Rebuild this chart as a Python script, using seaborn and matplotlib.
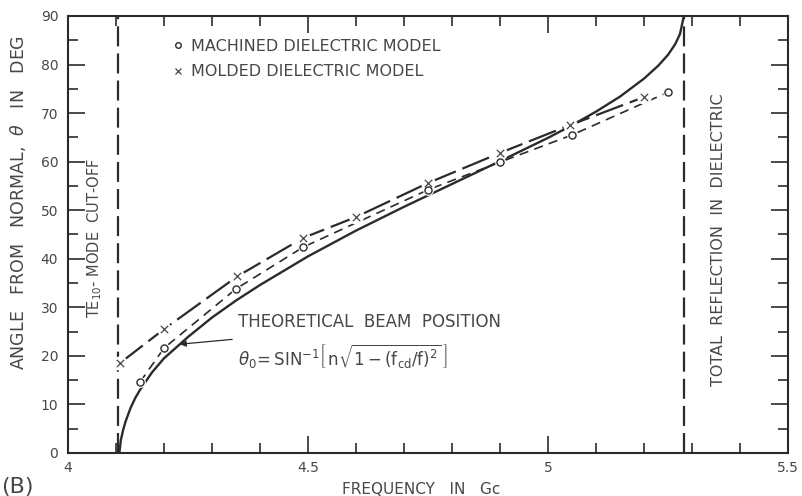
import numpy as np
import pandas as pd
import matplotlib
matplotlib.use("Agg")
import matplotlib.pyplot as plt
from matplotlib.ticker import MultipleLocator, FixedLocator
import seaborn as sns

# Theoretical beam position (solid curve), frequency in Gc vs angle in degrees
theory_freq = [4.107, 4.110, 4.115, 4.12, 4.13, 4.14, 4.15, 4.175, 4.2, 4.233,
               4.25, 4.3, 4.35, 4.4, 4.5, 4.6, 4.7, 4.8, 4.9, 5.0, 5.05, 5.1,
               5.15, 5.2, 5.23, 5.25, 5.265, 5.275, 5.283]
theory_angle = [0, 2.6, 4.8, 6.5, 9.2, 11.3, 13.0, 16.6, 19.5, 22.4,
                23.9, 27.9, 31.4, 34.6, 40.5, 45.8, 50.7, 55.4, 60.1, 64.9, 67.5, 70.3,
                73.4, 77.1, 79.8, 82.0, 84.2, 86.3, 90.0]

# Measured beam positions
machined_freq = [4.15, 4.2, 4.35, 4.49, 4.75, 4.9, 5.05, 5.25]
machined_angle = [14.6, 21.6, 33.8, 42.4, 54.2, 59.9, 65.5, 74.3]

molded_freq = [4.108, 4.2, 4.353, 4.49, 4.6, 4.75, 4.9, 5.045, 5.2]
molded_angle = [18.5, 25.5, 36.4, 44.3, 48.6, 55.6, 61.8, 67.5, 73.3]

# Limits of the operating band
cutoff_freq = 4.105
total_reflection_freq = 5.283

x_major = [4, 4.5, 5, 5.5]
x_major_labels = ["4", "4.5", "5", "5.5"]

sns.set_style("ticks")
plt.rcParams["font.family"] = ["DejaVu Sans"]
plt.rcParams["mathtext.fontset"] = "dejavusans"

ink = "#2b2b2b"
txt = "#474747"

fig = plt.figure(figsize=(8.02, 4.96), dpi=100)
ax = fig.add_axes([68 / 802, 1 - 453 / 496, 720 / 802, 437 / 496])

theory = pd.DataFrame({"f": theory_freq, "theta": theory_angle})
machined = pd.DataFrame({"f": machined_freq, "theta": machined_angle})
molded = pd.DataFrame({"f": molded_freq, "theta": molded_angle})

# band limits
for fx in (cutoff_freq, total_reflection_freq):
    ax.axvline(fx, color=ink, lw=1.6, linestyle=(0, (9, 3.2)), zorder=2)

sns.lineplot(data=theory, x="f", y="theta", ax=ax, color=ink, lw=1.7,
             estimator=None, sort=False, zorder=3)
sns.lineplot(data=molded, x="f", y="theta", ax=ax, color=ink, lw=1.6,
             estimator=None, sort=False, linestyle=(0, (13, 3.2)), zorder=3)
sns.lineplot(data=machined, x="f", y="theta", ax=ax, color=ink, lw=1.2,
             estimator=None, sort=False, linestyle=(0, (5.5, 3.8)), zorder=3)

# white gaps around the measured points
sns.scatterplot(data=molded, x="f", y="theta", ax=ax, color="white", s=110,
                linewidth=0, zorder=4)
sns.scatterplot(data=machined, x="f", y="theta", ax=ax, color="white", s=60,
                linewidth=0, zorder=4)
sns.scatterplot(data=molded, x="f", y="theta", ax=ax, marker="x", color=txt,
                s=28, linewidth=0.9, zorder=5)
sns.scatterplot(data=machined, x="f", y="theta", ax=ax, marker="o",
                facecolor="white", edgecolor=ink, s=26, linewidth=1.0, zorder=5)

ax.set_xlim(4, 5.5)
ax.set_ylim(0, 90)
ax.xaxis.set_major_locator(FixedLocator(x_major))
ax.set_xticklabels(x_major_labels)
ax.xaxis.set_minor_locator(MultipleLocator(0.1))
ax.yaxis.set_major_locator(MultipleLocator(10))
ax.yaxis.set_minor_locator(MultipleLocator(5))
ax.tick_params(which="both", direction="in", top=True, right=True,
               color=ink, width=1.2, labelsize=10, labelcolor=txt)
ax.tick_params(which="major", length=12)
ax.tick_params(which="minor", length=7.5)
ax.tick_params(axis="x", pad=6)
ax.tick_params(axis="y", pad=7)
for s in ax.spines.values():
    s.set_color(ink)
    s.set_linewidth(1.5)

ax.set_xlabel("")
ax.set_ylabel("")
fig.text(421 / 802, 1 - 489 / 496, "FREQUENCY   IN   Gc", ha="center", va="center",
         fontsize=11, color=txt)
fig.text(18 / 802, 1 - 202 / 496, "ANGLE   FROM   NORMAL,  $\\theta$   IN   DEG",
         rotation=90, ha="center", va="center", fontsize=12.5, color=txt)
fig.text(1 / 802, 1 - 493 / 496, "(B)", ha="left", va="baseline",
         fontsize=16, color=txt)

# vertical annotations beside the band limits
ax.text(4.0565, 44.3, "TE$_{10}$- MODE  CUT-OFF", rotation=90, ha="center",
        va="center", fontsize=10.5, color=txt)
ax.text(5.356, 43.9, "TOTAL  REFLECTION  IN  DIELECTRIC", rotation=90,
        ha="center", va="center", fontsize=11.5, color=txt)

# theoretical curve label with arrow
ax.text(4.354, 27.0, "THEORETICAL  BEAM  POSITION", ha="left", va="center",
        fontsize=12, color=txt)
ax.text(4.354, 19.7,
        r"$\theta_0\!=\mathrm{SIN}^{-1}\left[\,\mathrm{n}\sqrt{\mathrm{1-(f_{cd}/f)^{2}}}\,\right]$",
        ha="left", va="center", fontsize=12, color=txt)
ax.annotate("", xy=(4.233, 22.4), xytext=(4.342, 23.4),
            arrowprops=dict(arrowstyle="-|>", color=ink, lw=0.9,
                            mutation_scale=9, shrinkA=0, shrinkB=0))

# legend of measured models
handles = [
    plt.Line2D([], [], ls="none", marker="o", ms=4, mfc="white", mec=ink, mew=1.0),
    plt.Line2D([], [], ls="none", marker="x", ms=4.5, color=txt, mew=0.9),
]
ax.legend(handles, ["MACHINED DIELECTRIC MODEL", "MOLDED DIELECTRIC MODEL"],
          loc="upper left", bbox_to_anchor=(0.137, 0.962), frameon=False,
          fontsize=11.5, labelcolor=txt, handlelength=0.6, handletextpad=0.5,
          labelspacing=0.65, borderaxespad=0)

fig.savefig("out.png", dpi=100, facecolor="white")
